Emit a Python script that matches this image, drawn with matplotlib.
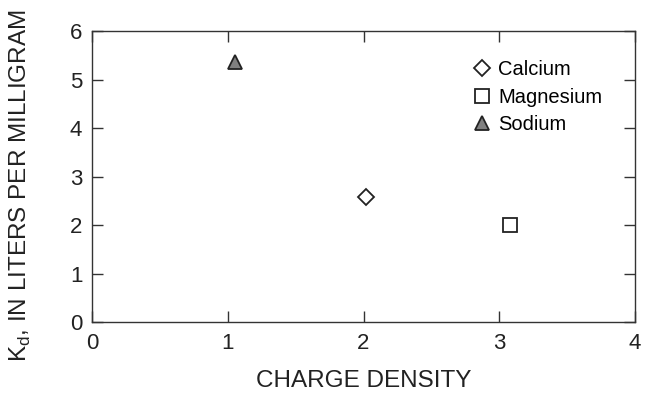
import matplotlib
matplotlib.use("Agg")
import matplotlib.pyplot as plt

plt.rcParams['font.family'] = ['Liberation Sans', 'DejaVu Sans']

# values
names = ['Calcium', 'Magnesium', 'Sodium']
charge_density = [2.02, 3.08, 1.05]
kd = [2.58, 2.0, 5.37]
markers = ['D', 's', '^']
faces = ['white', 'white', '#808080']
sizes = [8.5, 10.5, 10.5]

x_ticks = [0, 1, 2, 3, 4]
y_ticks = [0, 1, 2, 3, 4, 5, 6]

fig = plt.figure(figsize=(6.5, 3.94), dpi=100)
ax = fig.add_axes([0.1415, 0.182, 0.8355, 0.739])

for n, x, y, m, fc, s in zip(names, charge_density, kd, markers, faces, sizes):
    ax.plot([x], [y], linestyle='none', marker=m, markersize=s,
            markerfacecolor=fc, markeredgecolor='#222222', markeredgewidth=1.3,
            label=n)

ax.set_xlim(0, 4)
ax.set_ylim(0, 6)
ax.set_xticks(x_ticks)
ax.set_yticks(y_ticks)
ax.tick_params(direction='in', length=8, width=1, colors='#333333',
               labelcolor='#222222', labelsize=16, top=True, right=True)
ax.tick_params(axis='x', pad=8)
ax.tick_params(axis='y', pad=7)
for sp in ax.spines.values():
    sp.set_color('#333333')
    sp.set_linewidth(1)

ax.set_xlabel('CHARGE DENSITY', fontsize=17.5, color='#222222', labelpad=11)
ax.set_ylabel(r"K$_\mathregular{d}$, IN LITERS PER MILLIGRAM", fontsize=17.5,
              color='#222222')
ax.yaxis.set_label_coords(-0.108, 0.47)

leg = ax.legend(loc='upper left', bbox_to_anchor=(0.70, 0.90), frameon=False,
                fontsize=14.5, handletextpad=0.3, labelspacing=0.42,
                handlelength=1.0, borderaxespad=0, borderpad=0)

fig.savefig('out.png', dpi=100)
